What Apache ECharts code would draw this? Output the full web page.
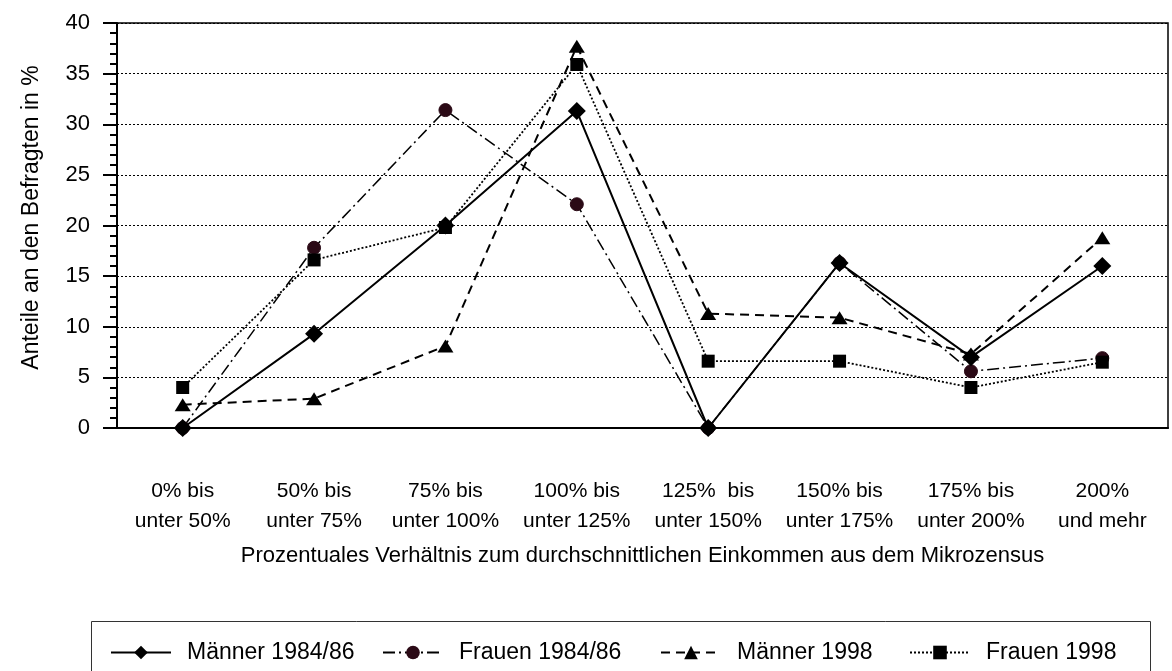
<!DOCTYPE html>
<html><head><meta charset="utf-8">
<script src="https://cdn.jsdelivr.net/npm/echarts@6/dist/echarts.min.js"></script>
<style>html,body{margin:0;padding:0;background:#fff}#c{width:1172px;height:671px}</style>
</head><body><div id="c"></div>
<script>
const categories = ['0% bis\nunter 50%', '50% bis\nunter 75%', '75% bis\nunter 100%', '100% bis\nunter 125%', '125%  bis\nunter 150%', '150% bis\nunter 175%', '175% bis\nunter 200%', '200%\nund mehr'];
const seriesNames = ['Männer 1984/86', 'Frauen 1984/86', 'Männer 1998', 'Frauen 1998'];
const maenner8486 = [0, 9.3, 20.0, 31.3, 0, 16.3, 7.0, 16.0];
const frauen8486 = [0, 17.8, 31.4, 22.1, 0, 16.3, 5.6, 6.9];
const maenner98 = [2.3, 2.9, 8.1, 37.7, 11.3, 10.9, 7.3, 18.8];
const frauen98 = [4.0, 16.6, 19.8, 35.9, 6.6, 6.6, 4.0, 6.5];
const yTitle = 'Anteile an den Befragten in %';
const xTitle = 'Prozentuales Verhältnis zum durchschnittlichen Einkommen aus dem Mikrozensus';

const FONT = "'Liberation Sans', Arial, sans-serif";
const chart = echarts.init(document.getElementById('c'), null, {renderer: 'canvas'});

const legendLefts = [110, 382, 660, 909];
const legends = seriesNames.map((n, i) => ({
  data: [n], left: legendLefts[i], top: 641, orient: 'horizontal',
  itemWidth: 60, itemHeight: 17, padding: 0,
  textStyle: {fontFamily: FONT, fontSize: 23, color: '#000', padding: [0, 0, 0, 11]}
}));

const option = {
  backgroundColor: '#fff',
  animation: false,
  textStyle: {fontFamily: FONT},
  grid: {left: 117, right: 4, top: 23, bottom: 243, show: true, borderColor: '#000', borderWidth: 1.5, backgroundColor: 'transparent'},
  legend: legends,
  graphic: [{type: 'rect', left: 89, top: 619, shape: {width: 1059, height: 70}, style: {fill: 'none', stroke: '#333', lineWidth: 1}, silent: true}],
  xAxis: {
    type: 'category', data: categories, boundaryGap: true,
    axisLine: {lineStyle: {color: '#000', width: 2}},
    axisTick: {alignWithLabel: true, length: 12, lineStyle: {color: '#000', width: 2}},
    axisLabel: {color: '#000', fontSize: 21, fontFamily: FONT, lineHeight: 30, margin: 48, interval: 0},
    name: xTitle, nameLocation: 'middle', nameGap: 117,
    nameTextStyle: {color: '#000', fontSize: 22, fontFamily: FONT}
  },
  yAxis: {
    type: 'value', min: 0, max: 40, interval: 5,
    axisLine: {show: true, lineStyle: {color: '#000', width: 2}},
    axisTick: {show: true, length: 14, lineStyle: {color: '#000', width: 2}},
    minorTick: {show: true, splitNumber: 5, length: 7, lineStyle: {color: '#000', width: 2}},
    axisLabel: {color: '#000', fontSize: 22, fontFamily: FONT, margin: 27},
    splitLine: {show: true, lineStyle: {color: '#000', width: 1, type: [2, 2]}},
    name: yTitle, nameLocation: 'middle', nameGap: 74, nameRotate: 90,
    nameTextStyle: {color: '#000', fontSize: 23, fontFamily: FONT, padding: [0, 0, 0, 16]}
  },
  series: [
    {name: seriesNames[0], type: 'line', z: 4, data: maenner8486, symbol: 'diamond', symbolSize: 18,
     itemStyle: {color: '#000'}, lineStyle: {color: '#000', width: 2, type: 'solid'}},
    {name: seriesNames[1], type: 'line', z: 3, data: frauen8486, symbol: 'circle', symbolSize: 13,
     itemStyle: {color: '#2b0a16', borderColor: '#2b0a16'}, lineStyle: {color: '#000', width: 1.5, type: [12, 4, 2, 4]}},
    {name: seriesNames[2], type: 'line', z: 5, data: maenner98, symbol: 'triangle', symbolSize: [16, 13],
     itemStyle: {color: '#000'}, lineStyle: {color: '#000', width: 2, type: [9, 6]}},
    {name: seriesNames[3], type: 'line', z: 6, data: frauen98, symbol: 'rect', symbolSize: 13,
     itemStyle: {color: '#000'}, lineStyle: {color: '#000', width: 1.8, type: [2, 2]}}
  ]
};
chart.setOption(option);
</script></body></html>
